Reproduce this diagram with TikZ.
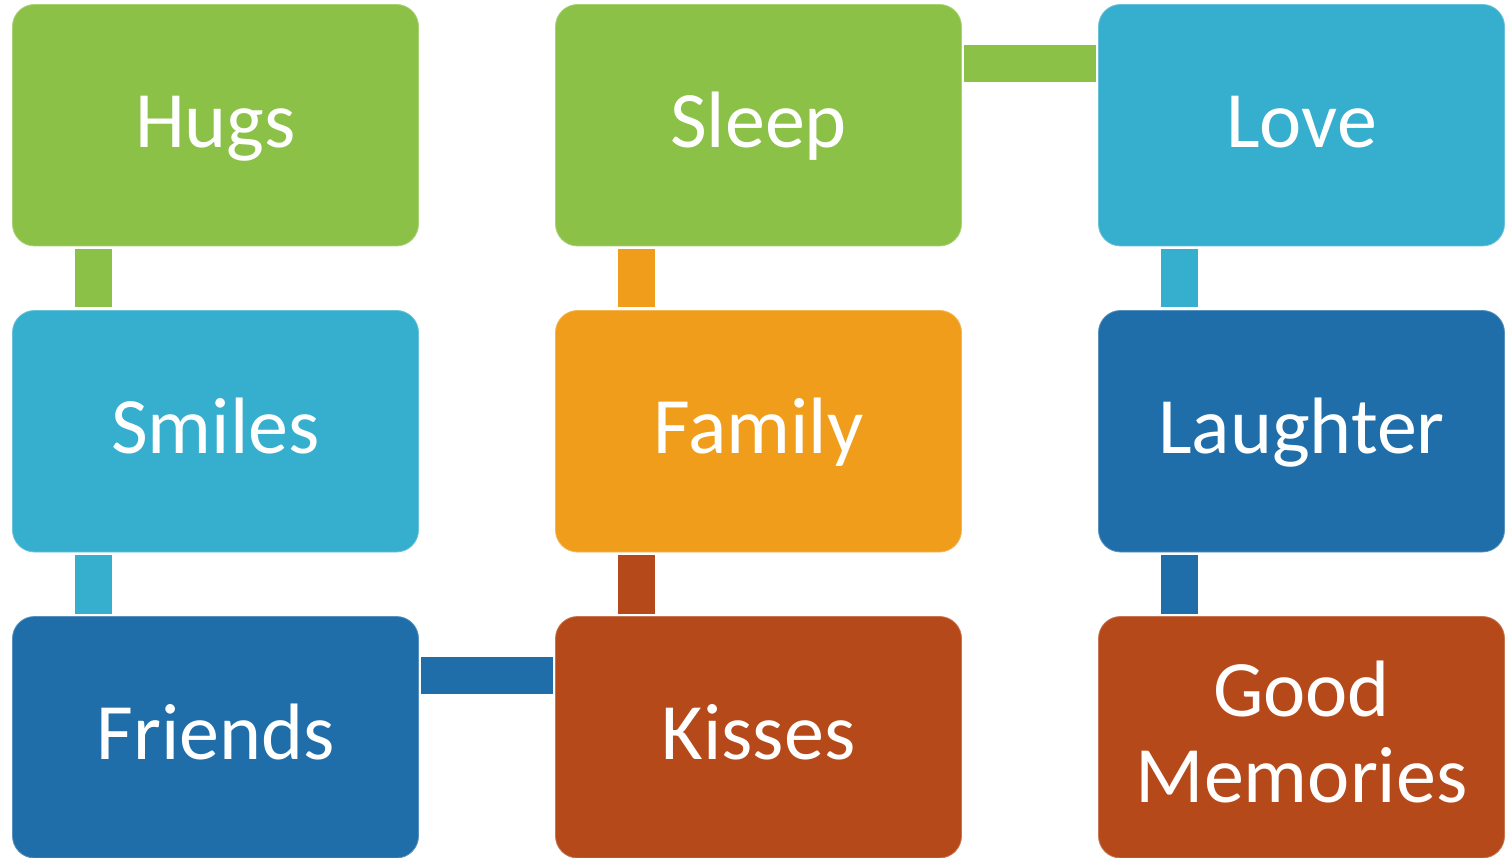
\documentclass[tikz,border=0pt]{standalone}
\usepackage{fontspec}
\setmainfont{Carlito}
\definecolor{cgreen}{RGB}{140,193,72}
\definecolor{clblue}{RGB}{54,174,206}
\definecolor{cdblue}{RGB}{31,110,169}
\definecolor{corange}{RGB}{240,157,27}
\definecolor{cbrown}{RGB}{182,73,25}
\begin{document}
\begin{tikzpicture}[x=1pt,y=1pt,
  box/.style={rounded corners=22pt, minimum width=406pt, minimum height=241.5pt,
    inner sep=0pt, outer sep=0pt, text=white, line width=0.8pt,
    font=\fontsize{80}{86.5}\selectfont, text height=50.6pt, text depth=6pt,
    fill=#1, draw=#1!75!white},
  bar/.style={line width=37pt, draw=#1}]
\useasboundingbox (0,0) rectangle (1505,-858);
% column 1
\node[box=cgreen]  (hugs)    at (215.5,-125.25) {Hugs};
\node[box=clblue]  (smiles)  at (215.5,-431.25) {Smiles};
\node[box=cdblue]  (friends) at (215.5,-737.25) {Friends};
% column 2
\node[box=cgreen]  (sleep)   at (758.5,-125.25) {Sleep};
\node[box=corange] (family)  at (758.5,-431.25) {Family};
\node[box=cbrown]  (kisses)  at (758.5,-737.25) {Kisses};
% column 3
\node[box=clblue]  (love)     at (1301.5,-125.25) {Love};
\node[box=cdblue]  (laughter) at (1301.5,-431.25) {Laughter};
\node[box=cbrown, align=center, text height=137.1pt] (memories) at (1301.5,-737.25) {Good\\Memories};
% connectors
\draw[bar=cgreen]  ([xshift=81pt,yshift=-3pt]hugs.south west) -- ([xshift=81pt,yshift=3pt]smiles.north west);
\draw[bar=clblue]  ([xshift=81pt,yshift=-3pt]smiles.south west) -- ([xshift=81pt,yshift=3pt]friends.north west);
\draw[bar=cdblue]  ([xshift=2.5pt,yshift=-59pt]friends.north east) -- ([xshift=-2.5pt,yshift=-59pt]kisses.north west);
\draw[bar=cbrown]  ([xshift=81pt,yshift=3pt]kisses.north west) -- ([xshift=81pt,yshift=-3pt]family.south west);
\draw[bar=corange] ([xshift=81pt,yshift=3pt]family.north west) -- ([xshift=81pt,yshift=-3pt]sleep.south west);
\draw[bar=cgreen]  ([xshift=2.5pt,yshift=-59pt]sleep.north east) -- ([xshift=-2.5pt,yshift=-59pt]love.north west);
\draw[bar=clblue]  ([xshift=81pt,yshift=-3pt]love.south west) -- ([xshift=81pt,yshift=3pt]laughter.north west);
\draw[bar=cdblue]  ([xshift=81pt,yshift=-3pt]laughter.south west) -- ([xshift=81pt,yshift=3pt]memories.north west);
\end{tikzpicture}
\end{document}
